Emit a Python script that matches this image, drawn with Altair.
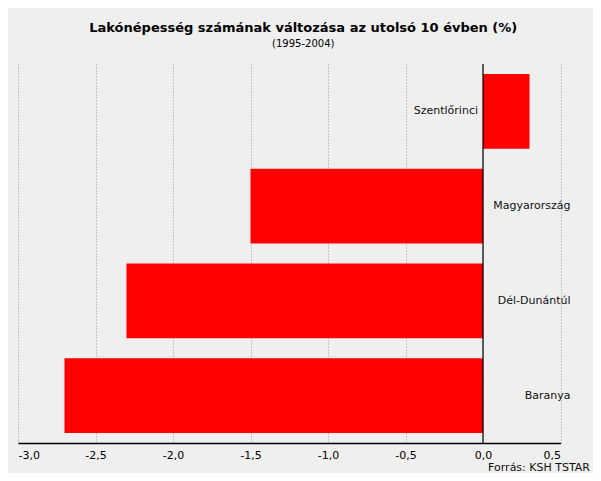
import altair as alt
import pandas as pd

categories = ["Szentlőrinci", "Magyarország", "Dél-Dunántúl", "Baranya"]
values = [0.3, -1.5, -2.3, -2.7]
x_ticks = [-3.0, -2.5, -2.0, -1.5, -1.0, -0.5, 0.0, 0.5]

df = pd.DataFrame({"name": categories, "value": values})

FONT = "DejaVu Sans"

x_scale = alt.Scale(domain=[-3.0, 0.5], nice=False, zero=False)
y_scale = alt.Scale(domain=categories, paddingInner=0.21, paddingOuter=0.105)

base = alt.Chart(df)

bars = base.mark_bar(color="#ff0000").encode(
    x=alt.X("value:Q", scale=x_scale,
            axis=alt.Axis(values=x_ticks, title=None, grid=True, ticks=False,
                          labelExpr="(datum.value < 0 ? '-' : '') + replace(format(abs(datum.value), '.1f'), '.', ',')",
                          labelFont=FONT, labelFontSize=11, labelColor="#000",
                          labelPadding=6, domainColor="#000", domainWidth=1.5,
                          gridColor="#999", gridDash=[1, 2], gridWidth=1)),
    y=alt.Y("name:N", scale=y_scale, sort=categories, axis=None),
)

zero = alt.Chart(pd.DataFrame({"z": [0.0]})).mark_rule(color="#000", strokeWidth=1.2).encode(
    x=alt.X("z:Q", scale=x_scale)
)

lab_pos = base.transform_filter("datum.value > 0").mark_text(
    align="right", baseline="middle", dx=-5, font=FONT, fontSize=11, color="#111"
).encode(
    x=alt.X("zpos:Q", scale=x_scale),
    y=alt.Y("name:N", scale=y_scale, sort=categories),
    text="name:N",
).transform_calculate(zpos="0")

lab_neg = base.transform_filter("datum.value < 0").mark_text(
    align="right", baseline="middle", dx=10, font=FONT, fontSize=11, color="#111"
).encode(
    x=alt.X("zpos:Q", scale=x_scale),
    y=alt.Y("name:N", scale=y_scale, sort=categories),
    text="name:N",
).transform_calculate(zpos="0.5")

source = alt.Chart(pd.DataFrame({"t": ["Forrás: KSH TSTAR"]})).mark_text(
    align="right", baseline="alphabetic", font=FONT, fontSize=11, color="#111"
).encode(x=alt.value(572), y=alt.value(407), text="t:N")

chart = alt.layer(bars, zero, lab_pos, lab_neg, source).properties(
    width=542.5, height=379,
    background="#efefef",
    padding={"left": 10, "top": 56, "right": 32.5, "bottom": 30},
    autosize=alt.AutoSizeParams(type="none"),
    title=alt.TitleParams(
        text="Lakónépesség számának változása az utolsó 10 évben (%)",
        subtitle="(1995-2004)",
        anchor="middle", dx=14, offset=14,
        font=FONT, fontSize=13, fontWeight="bold", color="#000",
        subtitleFont=FONT, subtitleFontSize=10, subtitleColor="#000", subtitlePadding=4,
    ),
).configure_view(stroke=None)

chart.save("out.html", embed_options={"renderer": "svg", "actions": False})
